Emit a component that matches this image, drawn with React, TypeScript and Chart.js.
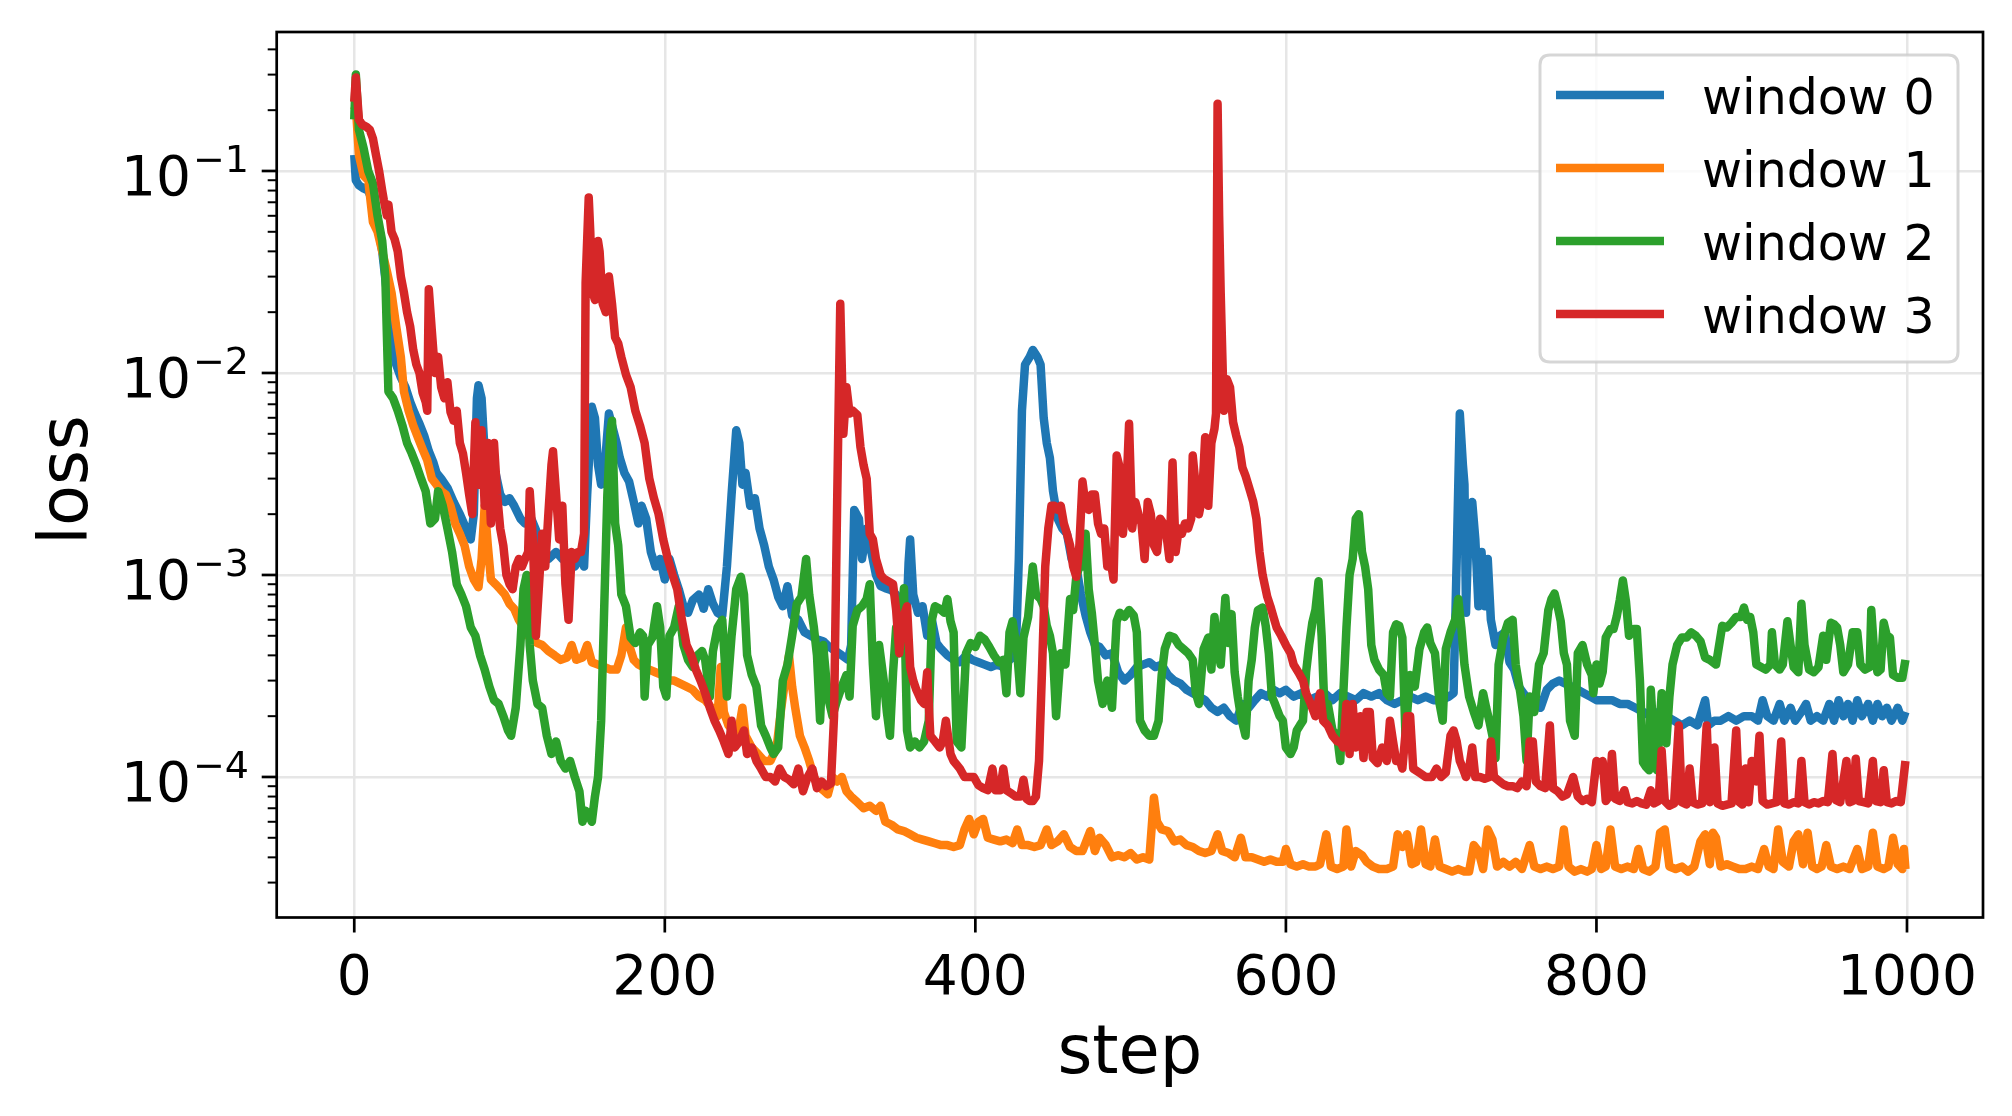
import React, { useEffect, useRef } from "react";
import { Chart, registerables } from "chart.js";

Chart.register(...registerables);

// ---------------- data (step, loss) ----------------
const window0: [number, number][] = [
  [0,0.12],[1,0.09],[3,0.085],[6,0.082],[9,0.08],[12,0.07],[15,0.055],[18,0.04],[21,0.025],[24,0.015],[27,0.011],[30,0.0095],[33,0.0085],[36,0.0072],[39,0.0063],[42,0.0056],[45,0.0049],[48,0.0041],[51,0.0036],[53,0.0032],[56,0.003],[60,0.0027],[64,0.0023],[68,0.002],[72,0.0017],[75,0.0015],[77,0.002],[79,0.0075],[80,0.0087],[82,0.0075],[84,0.004],[86,0.0045],[88,0.0035],[91,0.0032],[94,0.0025],[97,0.0023],[100,0.0024],[103,0.0022],[107,0.0019],[110,0.0018],[114,0.0019],[118,0.0016],[121,0.0013],[125,0.0012],[130,0.0013],[134,0.0012],[138,0.00115],[142,0.0011],[146,0.00125],[148,0.0011],[150,0.0025],[153,0.0068],[155,0.006],[157,0.0035],[159,0.0028],[161,0.0032],[164,0.0063],[166,0.0055],[169,0.0045],[171,0.0038],[174,0.0032],[177,0.0029],[180,0.0023],[183,0.0018],[185,0.0022],[188,0.0019],[191,0.0013],[194,0.0011],[197,0.0012],[200,0.00095],[203,0.0012],[206,0.001],[209,0.00085],[212,0.0007],[215,0.00065],[218,0.00075],[222,0.0008],[225,0.00068],[228,0.00085],[231,0.00072],[234,0.00065],[237,0.00063],[240,0.0011],[243,0.0025],[246,0.0052],[248,0.0045],[250,0.0028],[252,0.0032],[255,0.0022],[258,0.0024],[261,0.0017],[264,0.0014],[267,0.0011],[270,0.00095],[273,0.00078],[276,0.0007],[279,0.00088],[282,0.00063],[286,0.0006],[290,0.00052],[294,0.0005],[298,0.00048],[302,0.00047],[306,0.00044],[310,0.00042],[314,0.0004],[318,0.00038],[320,0.00045],[322,0.0021],[325,0.0019],[327,0.0012],[330,0.0017],[333,0.0013],[336,0.001],[339,0.00088],[342,0.00086],[346,0.00084],[349,0.0008],[352,0.00065],[355,0.00045],[357,0.00115],[358,0.0015],[360,0.0008],[363,0.00065],[366,0.0007],[369,0.0005],[372,0.0006],[375,0.00046],[378,0.00043],[382,0.0004],[386,0.00038],[390,0.00037],[394,0.0004],[398,0.00038],[402,0.00037],[406,0.00036],[410,0.00035],[414,0.00036],[418,0.00035],[422,0.00038],[426,0.0004],[428,0.0012],[430,0.0065],[432,0.011],[435,0.012],[437,0.013],[440,0.012],[442,0.011],[444,0.006],[446,0.0045],[448,0.0038],[450,0.0026],[453,0.0019],[456,0.0017],[459,0.0016],[462,0.0012],[465,0.0011],[468,0.0008],[471,0.00063],[474,0.00052],[477,0.00045],[480,0.00044],[484,0.0004],[488,0.00041],[492,0.00033],[496,0.0003],[500,0.00032],[504,0.00035],[508,0.00036],[512,0.00037],[516,0.00035],[520,0.00036],[524,0.00032],[528,0.0003],[532,0.00029],[536,0.00027],[540,0.00026],[544,0.00025],[548,0.00024],[552,0.00022],[556,0.00021],[560,0.00022],[564,0.0002],[568,0.00019],[572,0.00023],[576,0.00022],[580,0.00024],[584,0.00026],[588,0.00025],[592,0.00027],[596,0.00026],[600,0.00027],[605,0.00025],[610,0.00026],[615,0.00024],[620,0.00025],[625,0.00026],[630,0.00024],[635,0.00026],[640,0.00025],[645,0.00024],[650,0.00026],[655,0.00025],[660,0.00026],[665,0.00024],[670,0.00023],[675,0.00024],[680,0.00025],[685,0.00024],[690,0.00025],[695,0.00024],[700,0.00024],[705,0.00025],[708,0.00026],[710,0.0012],[712,0.0063],[714,0.0035],[715,0.0028],[716,0.00065],[718,0.0021],[720,0.0023],[722,0.0015],[724,0.0007],[726,0.0013],[728,0.0007],[730,0.0012],[732,0.0006],[735,0.00045],[738,0.0005],[741,0.00052],[744,0.00037],[747,0.00034],[750,0.00028],[753,0.00026],[756,0.00024],[760,0.00023],[764,0.00022],[768,0.00027],[772,0.00029],[776,0.0003],[780,0.00029],[784,0.00028],[788,0.00027],[792,0.00026],[796,0.00025],[800,0.00024],[805,0.00024],[810,0.00024],[815,0.00023],[820,0.00023],[825,0.00022],[830,0.00021],[835,0.0002],[840,0.00021],[845,0.0002],[850,0.00019],[855,0.00018],[860,0.00019],[865,0.00018],[870,0.00024],[872,0.00018],[876,0.00019],[880,0.00019],[885,0.0002],[890,0.00019],[895,0.0002],[900,0.0002],[904,0.00019],[907,0.00024],[910,0.0002],[914,0.00019],[918,0.00023],[921,0.00019],[925,0.00022],[928,0.00019],[932,0.00021],[935,0.00023],[938,0.00019],[942,0.0002],[946,0.00019],[950,0.00023],[953,0.00019],[956,0.00024],[959,0.0002],[962,0.00023],[965,0.00019],[968,0.00024],[971,0.0002],[975,0.00023],[978,0.00019],[981,0.00023],[984,0.0002],[987,0.00022],[990,0.00019],[994,0.00022],[997,0.00019],[999,0.00021]
];

const window1: [number, number][] = [
  [0,0.2],[1,0.21],[3,0.12],[6,0.095],[9,0.09],[12,0.056],[15,0.05],[18,0.04],[21,0.032],[24,0.025],[27,0.017],[30,0.012],[32,0.0081],[35,0.0065],[38,0.0055],[41,0.0048],[44,0.0042],[47,0.0037],[50,0.003],[53,0.0028],[56,0.0026],[59,0.0025],[62,0.0022],[65,0.0018],[68,0.0016],[71,0.0014],[74,0.0011],[77,0.00095],[80,0.00087],[82,0.0012],[84,0.0022],[86,0.0014],[88,0.00095],[91,0.0009],[94,0.00085],[97,0.0008],[100,0.00072],[103,0.00068],[106,0.0006],[109,0.00055],[112,0.0005],[115,0.00048],[118,0.00046],[121,0.00045],[125,0.00042],[129,0.0004],[133,0.00038],[137,0.00039],[140,0.00045],[143,0.00038],[147,0.00039],[150,0.00045],[153,0.00037],[157,0.00036],[161,0.00035],[165,0.00034],[169,0.00034],[172,0.0004],[175,0.00055],[177,0.00045],[180,0.00038],[183,0.00036],[186,0.00035],[190,0.00034],[194,0.00033],[198,0.00032],[202,0.0003],[206,0.0003],[210,0.00029],[214,0.00028],[218,0.00027],[222,0.00025],[226,0.00024],[230,0.00022],[234,0.0002],[236,0.00035],[238,0.00021],[241,0.00018],[244,0.00017],[247,0.00016],[250,0.00022],[252,0.00016],[256,0.00014],[260,0.00013],[264,0.00012],[268,0.00012],[272,0.00014],[275,0.00022],[278,0.00032],[280,0.0004],[282,0.00028],[284,0.00022],[287,0.00016],[290,0.00014],[293,0.00012],[296,0.0001],[299,0.00009],[302,0.000086],[305,0.000082],[308,0.0001],[311,0.000095],[314,0.0001],[317,0.000085],[320,0.00008],[324,0.000075],[328,0.00007],[332,0.000072],[336,0.000068],[339,0.000072],[342,0.00006],[346,0.000058],[350,0.000055],[354,0.000054],[358,0.000052],[362,0.00005],[366,0.000049],[370,0.000048],[374,0.000047],[378,0.000046],[382,0.000046],[386,0.000045],[390,0.000046],[393,0.000055],[396,0.000062],[399,0.000052],[402,0.00006],[405,0.000062],[408,0.00005],[412,0.000049],[416,0.000048],[420,0.000049],[424,0.000047],[427,0.000055],[430,0.000046],[434,0.000046],[438,0.000045],[442,0.000046],[446,0.000055],[449,0.000046],[453,0.000048],[457,0.000052],[461,0.000045],[465,0.000043],[469,0.000043],[474,0.000054],[477,0.000043],[480,0.00005],[484,0.000046],[488,0.00004],[492,0.000041],[496,0.00004],[500,0.000042],[504,0.000039],[508,0.00004],[512,0.000039],[515,0.000079],[517,0.00006],[520,0.000055],[524,0.000054],[528,0.000048],[532,0.000049],[536,0.000046],[540,0.000045],[544,0.000043],[548,0.000042],[552,0.000043],[556,0.000052],[559,0.000043],[563,0.000042],[567,0.00004],[571,0.00005],[574,0.00004],[578,0.00004],[582,0.000039],[586,0.000038],[590,0.000039],[594,0.000038],[598,0.000038],[600,0.000044],[603,0.000037],[607,0.000036],[611,0.000037],[615,0.000036],[619,0.000036],[622,0.000037],[626,0.000052],[629,0.000036],[633,0.000035],[637,0.000036],[639,0.000055],[642,0.000036],[645,0.000043],[649,0.000041],[652,0.000038],[656,0.000036],[660,0.000035],[665,0.000035],[669,0.000036],[672,0.000052],[675,0.000045],[678,0.000052],[681,0.000037],[684,0.000038],[687,0.000055],[690,0.000037],[693,0.000036],[696,0.000049],[699,0.000036],[703,0.000035],[707,0.000034],[711,0.000035],[715,0.000034],[718,0.000034],[721,0.000046],[724,0.000043],[727,0.000035],[730,0.000055],[733,0.000049],[736,0.000036],[740,0.000038],[744,0.000036],[748,0.000038],[752,0.000035],[757,0.000046],[760,0.000036],[764,0.000035],[768,0.000036],[772,0.000035],[776,0.000036],[779,0.000055],[782,0.000036],[786,0.000034],[790,0.000035],[794,0.000034],[797,0.000035],[800,0.000046],[803,0.000035],[806,0.000036],[809,0.000055],[812,0.000036],[816,0.000035],[820,0.000036],[824,0.000035],[827,0.000044],[830,0.000035],[834,0.000034],[838,0.000036],[841,0.000053],[844,0.000055],[847,0.000036],[851,0.000035],[855,0.000036],[859,0.000034],[863,0.000036],[867,0.000048],[870,0.000052],[873,0.000037],[875,0.000053],[877,0.00005],[880,0.000036],[884,0.000037],[888,0.000036],[892,0.000035],[896,0.000035],[900,0.000036],[904,0.000035],[908,0.000044],[911,0.000036],[914,0.000035],[917,0.000055],[920,0.000038],[924,0.000036],[927,0.000048],[930,0.000052],[933,0.000037],[936,0.000053],[939,0.000036],[942,0.000035],[945,0.000036],[948,0.000046],[951,0.000036],[955,0.000035],[959,0.000036],[963,0.000035],[968,0.000044],[971,0.000035],[975,0.000036],[978,0.000053],[981,0.000036],[985,0.000035],[988,0.000036],[991,0.00005],[994,0.000037],[997,0.000035],[998,0.000044],[999,0.000035]
];

const window2: [number, number][] = [
  [0,0.18],[1,0.3],[3,0.16],[6,0.13],[9,0.1],[12,0.087],[15,0.06],[18,0.045],[20,0.03],[22,0.0081],[25,0.0075],[28,0.0065],[31,0.0055],[34,0.0045],[37,0.004],[40,0.0035],[43,0.003],[46,0.0026],[49,0.0018],[52,0.0019],[54,0.0026],[57,0.0022],[60,0.0017],[63,0.0013],[66,0.0009],[69,0.0008],[72,0.0007],[75,0.00055],[78,0.0005],[81,0.0004],[84,0.00034],[87,0.00028],[90,0.00024],[93,0.00023],[96,0.0002],[99,0.00017],[101,0.00016],[104,0.00022],[107,0.00045],[109,0.00085],[111,0.001],[113,0.00045],[115,0.0003],[118,0.00023],[121,0.00022],[124,0.00016],[127,0.00013],[130,0.00015],[133,0.00012],[136,0.00011],[139,0.00012],[142,0.0001],[145,0.000085],[147,0.00006],[149,0.000068],[151,0.000065],[153,0.00006],[155,0.00008],[157,0.0001],[159,0.00019],[161,0.0007],[163,0.0025],[165,0.0052],[166,0.0058],[168,0.0018],[170,0.0014],[172,0.0008],[175,0.0007],[178,0.00049],[181,0.00046],[184,0.00052],[186,0.0005],[187,0.00025],[189,0.00045],[192,0.00049],[195,0.0007],[197,0.00055],[199,0.00028],[201,0.00025],[203,0.0005],[206,0.00055],[209,0.0007],[212,0.00045],[215,0.00038],[218,0.00035],[221,0.0004],[224,0.00042],[226,0.00038],[229,0.00025],[231,0.00042],[234,0.00055],[237,0.0006],[240,0.00025],[243,0.0005],[246,0.00085],[249,0.00098],[251,0.0008],[253,0.0004],[256,0.00032],[259,0.00028],[262,0.00018],[265,0.00016],[268,0.00014],[270,0.00013],[273,0.00014],[276,0.0003],[279,0.00036],[282,0.0005],[285,0.00072],[288,0.00078],[291,0.0012],[293,0.0008],[296,0.00055],[298,0.0004],[300,0.00019],[302,0.00045],[305,0.00025],[308,0.0002],[311,0.00024],[314,0.00028],[317,0.00032],[319,0.00025],[321,0.00056],[324,0.00067],[327,0.0007],[330,0.00076],[332,0.0009],[334,0.00036],[336,0.0002],[338,0.00045],[341,0.0003],[343,0.00021],[345,0.00016],[347,0.00033],[349,0.00055],[351,0.00041],[354,0.00086],[356,0.00017],[358,0.00014],[361,0.00015],[364,0.00014],[367,0.00015],[370,0.00019],[372,0.0006],[374,0.0007],[377,0.00068],[380,0.00065],[382,0.00076],[384,0.00059],[386,0.00052],[388,0.00015],[391,0.00014],[394,0.00041],[397,0.00046],[400,0.00044],[403,0.0005],[406,0.00048],[409,0.00044],[412,0.0004],[415,0.00037],[418,0.00038],[420,0.00026],[422,0.00052],[424,0.00059],[427,0.00041],[429,0.00026],[431,0.00049],[434,0.00062],[437,0.0011],[439,0.0008],[442,0.00076],[444,0.0007],[446,0.00056],[448,0.0005],[450,0.00041],[452,0.0002],[455,0.00041],[458,0.00036],[461,0.00076],[463,0.00067],[465,0.00098],[467,0.0011],[469,0.0011],[471,0.0016],[473,0.00085],[475,0.00065],[477,0.00045],[479,0.0003],[482,0.00023],[485,0.0003],[488,0.00022],[491,0.00059],[493,0.00065],[496,0.00062],[499,0.00067],[502,0.00063],[504,0.00052],[506,0.00019],[509,0.00017],[512,0.00016],[515,0.00016],[518,0.00019],[520,0.00032],[522,0.00043],[525,0.0005],[528,0.00049],[531,0.00045],[534,0.00043],[537,0.00041],[540,0.00038],[542,0.00026],[544,0.00023],[547,0.00043],[550,0.00049],[552,0.00034],[554,0.00062],[556,0.00043],[558,0.00036],[561,0.00077],[563,0.00046],[565,0.00064],[567,0.00033],[569,0.00025],[571,0.0002],[574,0.00016],[576,0.0003],[578,0.00038],[580,0.00055],[582,0.00067],[585,0.00069],[587,0.00056],[589,0.00041],[591,0.00025],[593,0.00023],[596,0.0002],[598,0.00019],[600,0.00014],[603,0.00013],[605,0.00014],[607,0.00017],[609,0.00018],[611,0.00019],[613,0.00033],[615,0.00045],[617,0.00058],[619,0.00067],[621,0.00093],[623,0.0005],[625,0.0002],[627,0.00023],[630,0.00017],[633,0.00016],[635,0.00012],[637,0.00026],[639,0.00055],[641,0.001],[643,0.0012],[645,0.0019],[647,0.002],[649,0.0013],[651,0.0011],[653,0.00085],[655,0.00045],[657,0.00038],[660,0.00034],[663,0.00032],[665,0.00026],[667,0.00025],[669,0.00052],[671,0.00057],[673,0.00056],[675,0.00049],[677,0.00016],[680,0.00032],[683,0.00028],[686,0.00043],[689,0.00052],[691,0.00055],[693,0.00046],[696,0.00041],[699,0.00023],[701,0.00019],[703,0.00043],[706,0.00052],[709,0.0006],[711,0.00076],[713,0.00055],[715,0.00036],[718,0.00025],[721,0.00021],[724,0.00018],[727,0.00026],[729,0.00022],[731,0.00019],[733,0.00016],[735,0.000124],[737,0.00036],[740,0.00049],[743,0.00058],[746,0.0006],[748,0.00036],[751,0.00026],[753,0.0002],[755,0.00012],[757,0.00025],[760,0.00021],[763,0.00036],[766,0.00041],[769,0.00067],[771,0.00076],[773,0.00081],[775,0.0007],[777,0.00059],[779,0.00041],[781,0.00036],[783,0.00019],[786,0.00016],[788,0.00041],[791,0.00045],[794,0.00036],[797,0.00032],[798,0.00026],[800,0.00036],[802,0.00029],[804,0.00033],[806,0.00049],[809,0.00054],[811,0.00054],[813,0.00062],[815,0.00075],[817,0.00094],[819,0.00074],[821,0.0005],[824,0.00054],[826,0.00054],[828,0.0003],[830,0.000118],[832,0.000112],[834,0.000108],[835,0.00027],[837,0.00015],[839,0.000108],[842,0.00026],[845,0.000147],[847,0.00025],[849,0.00036],[852,0.00045],[855,0.00049],[858,0.00049],[861,0.00052],[864,0.0005],[867,0.00047],[870,0.00039],[873,0.00038],[877,0.00036],[881,0.00056],[884,0.00055],[887,0.00058],[890,0.00062],[893,0.00062],[895,0.00069],[897,0.0006],[899,0.00062],[901,0.00052],[903,0.00036],[906,0.00035],[909,0.00034],[912,0.00036],[913,0.00052],[915,0.00036],[918,0.00034],[920,0.00036],[923,0.00059],[925,0.00045],[927,0.00035],[930,0.00033],[932,0.00072],[934,0.00045],[937,0.00034],[940,0.00033],[943,0.00035],[946,0.0005],[948,0.00038],[951,0.00058],[953,0.00057],[955,0.00055],[957,0.00045],[959,0.00033],[962,0.00036],[965,0.00052],[968,0.00052],[970,0.00036],[973,0.00034],[976,0.00035],[977,0.00067],[979,0.0004],[981,0.00033],[983,0.00034],[985,0.00058],[987,0.0005],[989,0.00049],[991,0.00032],[994,0.00031],[997,0.00031],[999,0.00038]
];

const window3: [number, number][] = [
  [0,0.22],[1,0.29],[3,0.18],[5,0.17],[8,0.165],[10,0.16],[12,0.145],[14,0.12],[16,0.1],[18,0.08],[19,0.072],[21,0.06],[22,0.068],[24,0.05],[26,0.046],[28,0.04],[30,0.03],[32,0.025],[34,0.02],[36,0.017],[38,0.013],[40,0.011],[42,0.01],[44,0.008],[46,0.0072],[47,0.0065],[48,0.026],[50,0.016],[52,0.01],[54,0.012],[56,0.0085],[58,0.0075],[60,0.009],[62,0.0064],[64,0.0058],[66,0.0065],[68,0.0045],[70,0.004],[72,0.0032],[74,0.0025],[76,0.002],[78,0.0057],[80,0.0028],[82,0.0052],[84,0.0022],[86,0.0045],[88,0.0018],[90,0.0045],[92,0.0025],[94,0.0017],[96,0.0014],[98,0.001],[100,0.0009],[102,0.00085],[104,0.0011],[106,0.0012],[108,0.0011],[110,0.0012],[112,0.0013],[113,0.0026],[115,0.0015],[117,0.0005],[119,0.0009],[121,0.0016],[123,0.0011],[125,0.002],[127,0.0035],[128,0.0041],[130,0.0025],[132,0.0015],[134,0.0022],[136,0.0009],[138,0.0006],[140,0.0013],[142,0.0012],[144,0.0013],[146,0.0013],[148,0.0016],[149,0.028],[151,0.074],[152,0.05],[153,0.026],[155,0.023],[157,0.045],[158,0.04],[160,0.022],[162,0.02],[164,0.03],[166,0.022],[168,0.015],[170,0.014],[172,0.012],[175,0.0098],[178,0.0085],[181,0.0065],[184,0.0055],[187,0.0045],[190,0.003],[193,0.0024],[196,0.002],[199,0.0015],[202,0.0012],[205,0.001],[208,0.00085],[211,0.0006],[214,0.00045],[217,0.0004],[220,0.00034],[223,0.0003],[226,0.00026],[229,0.00022],[232,0.00019],[235,0.00017],[238,0.00015],[241,0.00013],[243,0.00019],[245,0.00014],[248,0.00015],[251,0.00017],[253,0.00013],[256,0.00014],[259,0.00012],[262,0.00011],[265,0.0001],[268,0.0001],[271,0.000095],[274,0.00011],[277,0.0001],[280,0.000097],[283,0.000092],[286,0.00011],[289,0.000085],[292,0.0001],[295,0.00011],[298,0.000088],[301,0.000095],[304,0.00009],[307,0.000093],[309,0.0002],[311,0.0023],[313,0.022],[315,0.005],[317,0.0085],[319,0.0063],[321,0.0065],[324,0.0062],[326,0.0043],[328,0.0035],[330,0.003],[332,0.0016],[334,0.0015],[336,0.0012],[339,0.001],[341,0.00096],[344,0.00093],[347,0.0009],[349,0.00067],[351,0.00041],[353,0.0006],[356,0.0007],[358,0.00035],[360,0.0003],[362,0.00027],[365,0.00024],[367,0.00023],[369,0.00033],[371,0.00016],[374,0.00015],[377,0.00014],[379,0.00015],[381,0.00019],[384,0.00013],[386,0.00012],[388,0.000115],[390,0.00011],[393,0.0001],[396,0.0001],[399,0.0001],[402,0.000091],[405,0.000088],[408,0.000086],[411,0.00011],[413,0.000086],[416,0.000086],[418,0.00011],[420,0.000086],[423,0.000083],[426,0.00008],[429,0.00008],[431,0.000097],[433,0.000078],[435,0.000076],[437,0.000076],[439,0.00008],[441,0.00012],[443,0.00035],[445,0.0011],[447,0.0017],[449,0.0022],[451,0.0022],[453,0.0021],[455,0.0022],[457,0.0018],[459,0.0016],[461,0.0014],[463,0.0011],[465,0.00098],[467,0.0014],[469,0.0029],[471,0.0022],[473,0.0021],[475,0.0025],[477,0.0025],[479,0.0018],[481,0.0016],[483,0.0017],[485,0.0011],[487,0.0012],[489,0.00095],[491,0.0039],[493,0.0034],[495,0.0016],[497,0.0023],[499,0.0056],[501,0.0017],[503,0.0023],[505,0.002],[507,0.0018],[509,0.0012],[511,0.0023],[513,0.002],[515,0.0014],[517,0.0013],[519,0.0019],[521,0.0018],[523,0.0016],[525,0.0012],[527,0.0036],[529,0.0013],[531,0.0017],[533,0.0016],[535,0.0018],[537,0.0017],[539,0.0019],[540,0.0039],[542,0.0027],[544,0.002],[546,0.0024],[548,0.0048],[550,0.0022],[552,0.0045],[554,0.0053],[555,0.0063],[556,0.215],[557,0.06],[558,0.025],[560,0.0065],[562,0.0093],[564,0.0085],[566,0.0057],[568,0.0049],[570,0.0043],[572,0.0034],[574,0.0031],[577,0.0026],[579,0.0023],[581,0.0019],[583,0.0013],[585,0.001],[588,0.00078],[590,0.0007],[592,0.00062],[594,0.00055],[597,0.0005],[600,0.00045],[603,0.00041],[605,0.00036],[608,0.00033],[611,0.0003],[613,0.00026],[616,0.00023],[619,0.0002],[622,0.00026],[624,0.00019],[627,0.00018],[630,0.00016],[633,0.00015],[635,0.00015],[637,0.00014],[639,0.00023],[641,0.00013],[643,0.00023],[645,0.00014],[648,0.0002],[650,0.000124],[652,0.00021],[654,0.00021],[656,0.000124],[659,0.000117],[662,0.00014],[665,0.00012],[667,0.00019],[669,0.00015],[671,0.00012],[673,0.000124],[675,0.00011],[678,0.0002],[680,0.0002],[682,0.00011],[686,0.000105],[690,0.0001],[694,0.0001],[697,0.00011],[700,0.0001],[703,0.000105],[706,0.00016],[708,0.00017],[710,0.00015],[712,0.00012],[714,0.00011],[716,0.0001],[718,0.00011],[720,0.00014],[722,0.0001],[725,0.0001],[728,0.000098],[731,0.0001],[732,0.00015],[734,0.0001],[737,0.000096],[740,0.000092],[743,0.00009],[746,0.00009],[749,0.000088],[752,0.000095],[755,0.00009],[757,0.00015],[759,0.00015],[761,0.000095],[764,0.00009],[767,0.000088],[770,0.00018],[772,0.000088],[775,0.000085],[778,0.00008],[781,0.000082],[785,0.0001],[788,0.00008],[791,0.000076],[794,0.000078],[797,0.000075],[800,0.00012],[802,0.000108],[804,0.00012],[806,0.000076],[808,0.00008],[810,0.00013],[812,0.000078],[815,0.000076],[818,0.000086],[820,0.000075],[823,0.000074],[826,0.000076],[829,0.000074],[832,0.000073],[835,0.000086],[837,0.000074],[840,0.000076],[842,0.000135],[844,0.000076],[847,0.000072],[850,0.000074],[853,0.00018],[855,0.000075],[858,0.000073],[860,0.00011],[862,0.000075],[865,0.000073],[868,0.000074],[871,0.00018],[873,0.000075],[876,0.00014],[878,0.000074],[881,0.000072],[884,0.000073],[887,0.000074],[890,0.00017],[892,0.000075],[894,0.000073],[896,0.00011],[898,0.000075],[900,0.00012],[903,0.000095],[905,0.00016],[907,0.000076],[910,0.000073],[913,0.000074],[916,0.000075],[919,0.00015],[921,0.000074],[924,0.000073],[927,0.000075],[930,0.000074],[932,0.00012],[934,0.000075],[937,0.000073],[940,0.000075],[943,0.000074],[946,0.000076],[949,0.000075],[952,0.00013],[954,0.000077],[957,0.000075],[961,0.00012],[963,0.000075],[965,0.000076],[967,0.000123],[969,0.000076],[972,0.000075],[975,0.000074],[978,0.00012],[980,0.000076],[983,0.000075],[985,0.000108],[987,0.000075],[990,0.000074],[993,0.000076],[996,0.000075],[999,0.00012]
];

const seriesLabels = ["window 0", "window 1", "window 2", "window 3"];
const seriesColors = ["#1f77b4", "#ff7f0e", "#2ca02c", "#d62728"];
const xTickValues = [0, 200, 400, 600, 800, 1000];
const yDecadeValues = [1e-4, 1e-3, 1e-2, 1e-1];
const yDecadeExponents = ["\u22124", "\u22123", "\u22122", "\u22121"];

// ---------------- layout constants ----------------
const W = 2012;
const H = 1116;
const FONT = '"DejaVu Sans"';
const LINE_W = 8.5;

const axisPlugin = {
  id: "mplAxes",
  afterDraw(chart: any) {
    const ctx: CanvasRenderingContext2D = chart.ctx;
    const { left, right, top, bottom } = chart.chartArea;
    const xs = chart.scales.x;
    const ys = chart.scales.y;
    ctx.save();
    ctx.fillStyle = "#000";
    ctx.strokeStyle = "#000";

    // spines
    ctx.lineWidth = 2.7;
    ctx.strokeRect(left, top, right - left, bottom - top);

    // x ticks + labels
    ctx.lineWidth = 2.7;
    ctx.font = `55px ${FONT}`;
    ctx.textAlign = "center";
    ctx.textBaseline = "alphabetic";
    for (const v of xTickValues) {
      const px = xs.getPixelForValue(v);
      ctx.beginPath();
      ctx.moveTo(px, bottom);
      ctx.lineTo(px, bottom + 15);
      ctx.stroke();
      ctx.fillText(String(v), px, 994);
    }
    // x title
    ctx.font = `67px ${FONT}`;
    ctx.fillText("step", (left + right) / 2, 1073);

    // y ticks (major + minor)
    const yMin = ys.min;
    const yMax = ys.max;
    for (let e = -6; e <= 0; e++) {
      const d = Math.pow(10, e);
      for (let m = 1; m <= 9; m++) {
        const v = m * d;
        if (v < yMin || v > yMax) continue;
        const py = ys.getPixelForValue(v);
        ctx.lineWidth = m === 1 ? 2.7 : 2.0;
        const len = m === 1 ? 15 : 9;
        ctx.beginPath();
        ctx.moveTo(left, py);
        ctx.lineTo(left - len, py);
        ctx.stroke();
      }
    }
    // y labels 10^k
    ctx.textAlign = "left";
    const labelRight = 249;
    for (let i = 0; i < yDecadeValues.length; i++) {
      const py = ys.getPixelForValue(yDecadeValues[i]);
      ctx.font = `55px ${FONT}`;
      const wb = ctx.measureText("10").width;
      ctx.font = `38px ${FONT}`;
      const ws = ctx.measureText(yDecadeExponents[i]).width;
      const x0 = labelRight - wb - ws - 2;
      ctx.font = `55px ${FONT}`;
      ctx.fillText("10", x0, py + 24);
      ctx.font = `38px ${FONT}`;
      ctx.fillText(yDecadeExponents[i], x0 + wb + 2, py + 1);
    }
    // y title
    ctx.save();
    ctx.translate(87, 480);
    ctx.rotate(-Math.PI / 2);
    ctx.textAlign = "center";
    ctx.font = `67px ${FONT}`;
    ctx.fillText("loss", 0, 0);
    ctx.restore();

    // legend
    const bx = 1540, by = 55, bw = 418, bh = 307, r = 10;
    ctx.beginPath();
    ctx.moveTo(bx + r, by);
    ctx.lineTo(bx + bw - r, by);
    ctx.quadraticCurveTo(bx + bw, by, bx + bw, by + r);
    ctx.lineTo(bx + bw, by + bh - r);
    ctx.quadraticCurveTo(bx + bw, by + bh, bx + bw - r, by + bh);
    ctx.lineTo(bx + r, by + bh);
    ctx.quadraticCurveTo(bx, by + bh, bx, by + bh - r);
    ctx.lineTo(bx, by + r);
    ctx.quadraticCurveTo(bx, by, bx + r, by);
    ctx.closePath();
    ctx.fillStyle = "rgba(255,255,255,0.8)";
    ctx.fill();
    ctx.strokeStyle = "rgba(204,204,204,0.8)";
    ctx.lineWidth = 3;
    ctx.stroke();
    ctx.font = `49px ${FONT}`;
    ctx.textAlign = "left";
    chart.data.datasets.forEach((ds: any, i: number) => {
      const ly = 95 + i * 73;
      ctx.strokeStyle = ds.borderColor;
      ctx.lineWidth = LINE_W;
      ctx.beginPath();
      ctx.moveTo(1556, ly);
      ctx.lineTo(1664, ly);
      ctx.stroke();
      ctx.fillStyle = "#000";
      ctx.fillText(ds.label, 1702, ly + 19);
    });
    ctx.restore();
  },
};

export default function App() {
  const ref = useRef<HTMLCanvasElement | null>(null);
  useEffect(() => {
    if (!ref.current) return;
    const series = [window0, window1, window2, window3];
    const chart = new Chart(ref.current, {
      type: "line",
      data: {
        datasets: series.map((s, i) => ({
          label: seriesLabels[i],
          data: s.map(([x, y]) => ({ x, y })),
          borderColor: seriesColors[i],
          backgroundColor: seriesColors[i],
          borderWidth: LINE_W,
          pointRadius: 0,
          tension: 0,
          fill: false,
          borderJoinStyle: "round" as const,
          order: 3 - i,
        })),
      },
      options: {
        responsive: false,
        animation: false,
        devicePixelRatio: 1,
        layout: { padding: { left: 0, top: 32, right: 29, bottom: 0 } },
        plugins: { legend: { display: false }, tooltip: { enabled: false } },
        scales: {
          x: {
            type: "linear",
            bounds: "data",
            min: -49.95,
            max: 1048.95,
            afterBuildTicks: (s: any) => {
              s.ticks = xTickValues.map((v) => ({ value: v }));
            },
            afterFit: (s: any) => {
              s.height = H - 917.5;
            },
            ticks: { display: false },
            grid: { color: "#e6e6e6", lineWidth: 2.5, drawTicks: false },
            border: { display: false },
          },
          y: {
            type: "logarithmic",
            bounds: "data",
            min: 2.015e-5,
            max: 0.4876,
            afterBuildTicks: (s: any) => {
              s.ticks = yDecadeValues.map((v) => ({ value: v }));
            },
            afterFit: (s: any) => {
              s.width = 276.7;
            },
            ticks: { display: false },
            grid: { color: "#e6e6e6", lineWidth: 2.5, drawTicks: false },
            border: { display: false },
          },
        },
      },
      plugins: [axisPlugin],
    });
    return () => chart.destroy();
  }, []);
  return (
    <div style={{ position: "absolute", left: 0, top: 0, width: W, height: H, background: "#fff" }}>
      <canvas ref={ref} width={W} height={H} style={{ display: "block", width: W, height: H }} />
    </div>
  );
}
